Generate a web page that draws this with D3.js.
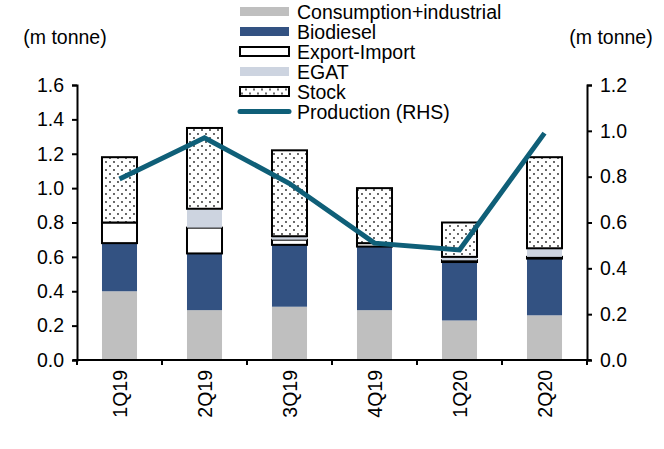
<!DOCTYPE html>
<html>
<head>
<meta charset="utf-8">
<script src="https://cdn.jsdelivr.net/npm/d3@7"></script>
<style>
  body { margin: 0; background: #fff; }
  svg text { font-family: "Liberation Sans", Arial, sans-serif; fill: #000; }
</style>
</head>
<body>
<div id="chart"></div>
<script>
// data (m tonne)
const quarters = ['1Q19', '2Q19', '3Q19', '4Q19', '1Q20', '2Q20'];
const consumption = [0.40, 0.29, 0.31, 0.29, 0.23, 0.26];
const biodiesel = [0.28, 0.33, 0.36, 0.37, 0.34, 0.33];
const export_import = [0.12, 0.15, 0.03, 0.02, 0.01, 0.01];
const egat = [0.00, 0.11, 0.02, 0.00, 0.02, 0.05];
const stock = [0.38, 0.47, 0.50, 0.32, 0.20, 0.53];
const production = [0.79, 0.97, 0.77, 0.51, 0.48, 0.99];
const left_ticks = [0, 0.2, 0.4, 0.6, 0.8, 1.0, 1.2, 1.4, 1.6];
const right_ticks = [0, 0.2, 0.4, 0.6, 0.8, 1.0, 1.2];

const width = 664;
const height = 449;
const margin = { left: 77, right: 77, top: 85, bottom: 89 };
const font_size = 19.5;

const svg = d3.select('#chart')
    .append('svg')
    .attr('width', width)
    .attr('height', height);

const defs = svg.append('defs');
const pattern = defs.append('pattern')
    .attr('id', 'dots')
    .attr('patternUnits', 'userSpaceOnUse')
    .attr('width', 8)
    .attr('height', 8);
pattern.append('rect').attr('width', 8).attr('height', 8).attr('fill', '#fff');
pattern.append('circle').attr('cx', 2).attr('cy', 2).attr('r', 0.9).attr('fill', '#222');
pattern.append('circle').attr('cx', 6).attr('cy', 6).attr('r', 0.9).attr('fill', '#222');

const x = d3.scaleBand()
    .domain(quarters)
    .range([margin.left, width - margin.right])
    .paddingInner(0.588)
    .paddingOuter(0.294);

const y_left = d3.scaleLinear()
    .domain([0, 1.6])
    .range([height - margin.bottom, margin.top]);

const y_right = d3.scaleLinear()
    .domain([0, 1.2])
    .range([height - margin.bottom, margin.top]);

const series = [
    { key: 'Consumption+industrial', values: consumption, fill: '#bfbfbf', stroke: 'none' },
    { key: 'Biodiesel', values: biodiesel, fill: '#335282', stroke: 'none' },
    { key: 'Export-Import', values: export_import, fill: '#ffffff', stroke: '#000' },
    { key: 'EGAT', values: egat, fill: '#cdd4e0', stroke: 'none' },
    { key: 'Stock', values: stock, fill: 'url(#dots)', stroke: '#000' },
];

const table = quarters.map((q, i) => {
    const row = { quarter: q };
    series.forEach(s => row[s.key] = s.values[i]);
    return row;
});

const stacked = d3.stack().keys(series.map(s => s.key))(table);

// fills first, outlined boxes afterwards so the black edges stay on top
const layers = svg.append('g');
stacked.forEach((layer, li) => {
    const s = series[li];
    layers.append('g')
        .selectAll('rect')
        .data(layer)
        .enter()
        .append('rect')
        .attr('x', d => x(d.data.quarter))
        .attr('width', x.bandwidth())
        .attr('y', d => y_left(d[1]))
        .attr('height', d => Math.max(0, y_left(d[0]) - y_left(d[1])))
        .attr('fill', s.fill)
        .attr('stroke', s.stroke)
        .attr('stroke-width', s.stroke === 'none' ? 0 : 2)
        .style('display', d => (d[1] - d[0]) > 0 ? null : 'none');
});

// left axis
const axis_left = svg.append('g')
    .attr('transform', `translate(${margin.left},0)`)
    .call(d3.axisLeft(y_left).tickValues(left_ticks).tickFormat(d3.format('.1f')).tickSizeOuter(0).tickSize(5).tickPadding(8));

// right axis
const axis_right = svg.append('g')
    .attr('transform', `translate(${width - margin.right},0)`)
    .call(d3.axisRight(y_right).tickValues(right_ticks).tickFormat(d3.format('.1f')).tickSizeOuter(0).tickSize(5).tickPadding(8));

// bottom axis with ticks between categories
const bottom_y = height - margin.bottom;
const axis_bottom = svg.append('g');
axis_bottom.append('line')
    .attr('x1', margin.left - 4)
    .attr('x2', width - margin.right + 4)
    .attr('y1', bottom_y)
    .attr('y2', bottom_y)
    .attr('stroke', '#000')
    .attr('stroke-width', 2);
const step = x.step();
const boundaries = quarters.map(q => x(q) - x.paddingInner() * step / 2).concat([width - margin.right]);
axis_bottom.selectAll('.xtick')
    .data(boundaries)
    .enter()
    .append('line')
    .attr('x1', d => d)
    .attr('x2', d => d)
    .attr('y1', bottom_y)
    .attr('y2', bottom_y + 5)
    .attr('stroke', '#000')
    .attr('stroke-width', 2);
axis_bottom.selectAll('.xlabel')
    .data(quarters)
    .enter()
    .append('text')
    .attr('transform', d => `translate(${x(d) + x.bandwidth() / 2 + 7}, ${bottom_y + 10}) rotate(-90)`)
    .attr('text-anchor', 'end')
    .style('font-size', `${font_size}px`)
    .text(d => d);

[axis_left, axis_right].forEach(a => {
    a.select('.domain').attr('stroke', '#000').attr('stroke-width', 2);
    a.selectAll('.tick line').attr('stroke', '#000').attr('stroke-width', 2);
    a.selectAll('.tick text').style('font-size', `${font_size}px`).style('font-family', '"Liberation Sans", Arial, sans-serif').attr('fill', '#000');
});

// production line on the right axis
const line = d3.line()
    .x((d, i) => x(quarters[i]) + x.bandwidth() / 2)
    .y(d => y_right(d));

svg.append('path')
    .datum(production)
    .attr('d', line)
    .attr('fill', 'none')
    .attr('stroke', '#0f5f78')
    .attr('stroke-width', 5)
    .attr('stroke-linejoin', 'miter');

// axis titles
svg.append('text')
    .attr('x', 65)
    .attr('y', 44)
    .attr('text-anchor', 'middle')
    .style('font-size', `${font_size}px`)
    .text('(m tonne)');
svg.append('text')
    .attr('x', 611)
    .attr('y', 44)
    .attr('text-anchor', 'middle')
    .style('font-size', `${font_size}px`)
    .text('(m tonne)');

// legend
const legend_items = series.map(s => ({ label: s.key, fill: s.fill, stroke: s.stroke, type: 'box' }))
    .concat([{ label: 'Production (RHS)', type: 'line' }]);
const legend_spacing = 20;
const legend = svg.selectAll('.legend')
    .data(legend_items)
    .enter()
    .append('g')
    .attr('class', 'legend')
    .attr('transform', (d, i) => `translate(240, ${11.5 + i * legend_spacing})`);

legend.filter(d => d.type === 'box')
    .append('rect')
    .attr('x', 0)
    .attr('y', -4.5)
    .attr('width', 49)
    .attr('height', 9)
    .attr('fill', d => d.fill)
    .attr('stroke', d => d.stroke)
    .attr('stroke-width', d => d.stroke === 'none' ? 0 : 2);

legend.filter(d => d.type === 'line')
    .append('line')
    .attr('x1', 0)
    .attr('x2', 49)
    .attr('y1', 0)
    .attr('y2', 0)
    .attr('stroke', '#0f5f78')
    .attr('stroke-width', 5)
    .attr('stroke-linecap', 'round');

legend.append('text')
    .attr('x', 57)
    .attr('y', 7)
    .style('font-size', `${font_size}px`)
    .text(d => d.label);
</script>
</body>
</html>
